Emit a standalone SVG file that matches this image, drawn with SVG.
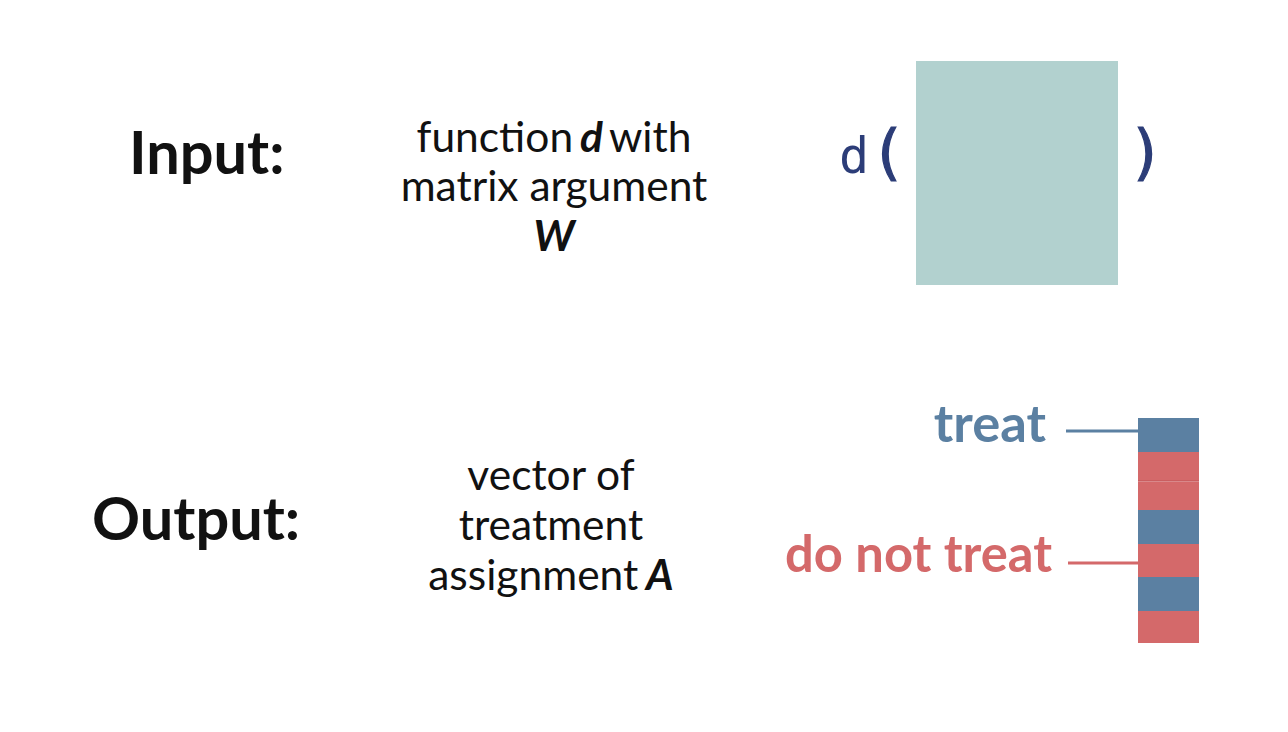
<svg xmlns="http://www.w3.org/2000/svg" width="1288" height="732" viewBox="0 0 1288 732">
<style>
.lbl{font-family:Lato,"Liberation Sans",sans-serif;font-weight:700;font-size:59.5px;fill:#111}
.desc{font-family:Lato,"Liberation Sans",sans-serif;font-size:42.5px;fill:#111;text-anchor:middle}
.it{font-weight:700;font-style:italic}
.mono{font-family:"DejaVu Sans Mono","Liberation Mono",monospace;fill:#2C3D78}
.paren{stroke:#2C3D78;stroke-width:1.2px}
.blue{fill:#5B80A2}
.red{fill:#D4696A}
.tag{font-family:Lato,"Liberation Sans",sans-serif;font-weight:700;text-anchor:end}
</style>
<rect width="1288" height="732" fill="#fff"/>
<g id="input-label"><text class="lbl" x="129" y="174">Input:</text></g>
<g id="input-desc">
<text class="desc" x="554" y="152" word-spacing="-4">function <tspan class="it">d</tspan> with</text>
<text class="desc" x="554" y="201">matrix argument</text>
<text class="desc" x="554" y="251"><tspan class="it">W</tspan></text>
</g>
<g id="function-call">
<text class="mono" x="839" y="173" font-size="50">d</text>
<text class="mono paren" x="888" y="172.5" font-size="60" text-anchor="middle">(</text>
<rect x="916" y="61" width="202" height="224" fill="#B2D1CF"/>
<text class="mono paren" x="1146" y="172.5" font-size="60" text-anchor="middle">)</text>
</g>
<g id="output-label"><text class="lbl" x="92" y="540">Output:</text></g>
<g id="output-desc">
<text class="desc" x="551" y="490">vector of</text>
<text class="desc" x="551" y="540">treatment</text>
<text class="desc" x="551" y="590" word-spacing="-3">assignment <tspan class="it">A</tspan></text>
</g>
<g id="vector">
<rect class="blue" x="1138" y="418" width="61" height="34"/>
<rect class="red" x="1138" y="452" width="61" height="29"/>
<rect x="1138" y="480.5" width="61" height="1" fill="#C05556"/>
<rect class="red" x="1138" y="481.5" width="61" height="28.5"/>
<rect class="blue" x="1138" y="510" width="61" height="34"/>
<rect class="red" x="1138" y="544" width="61" height="33"/>
<rect class="blue" x="1138" y="577" width="61" height="34"/>
<rect class="red" x="1138" y="611" width="61" height="32"/>
</g>
<g id="treat-label"><text class="tag blue" x="1046" y="442" font-size="52.5">treat</text></g>
<g id="notreat-label"><text class="tag red" x="1052" y="572" font-size="50.7">do not treat</text></g>
<g id="connectors" stroke-width="3">
<line x1="1066" y1="431" x2="1138" y2="431" stroke="#5B80A2"/>
<line x1="1068" y1="563" x2="1138" y2="563" stroke="#D4696A"/>
</g>
</svg>
